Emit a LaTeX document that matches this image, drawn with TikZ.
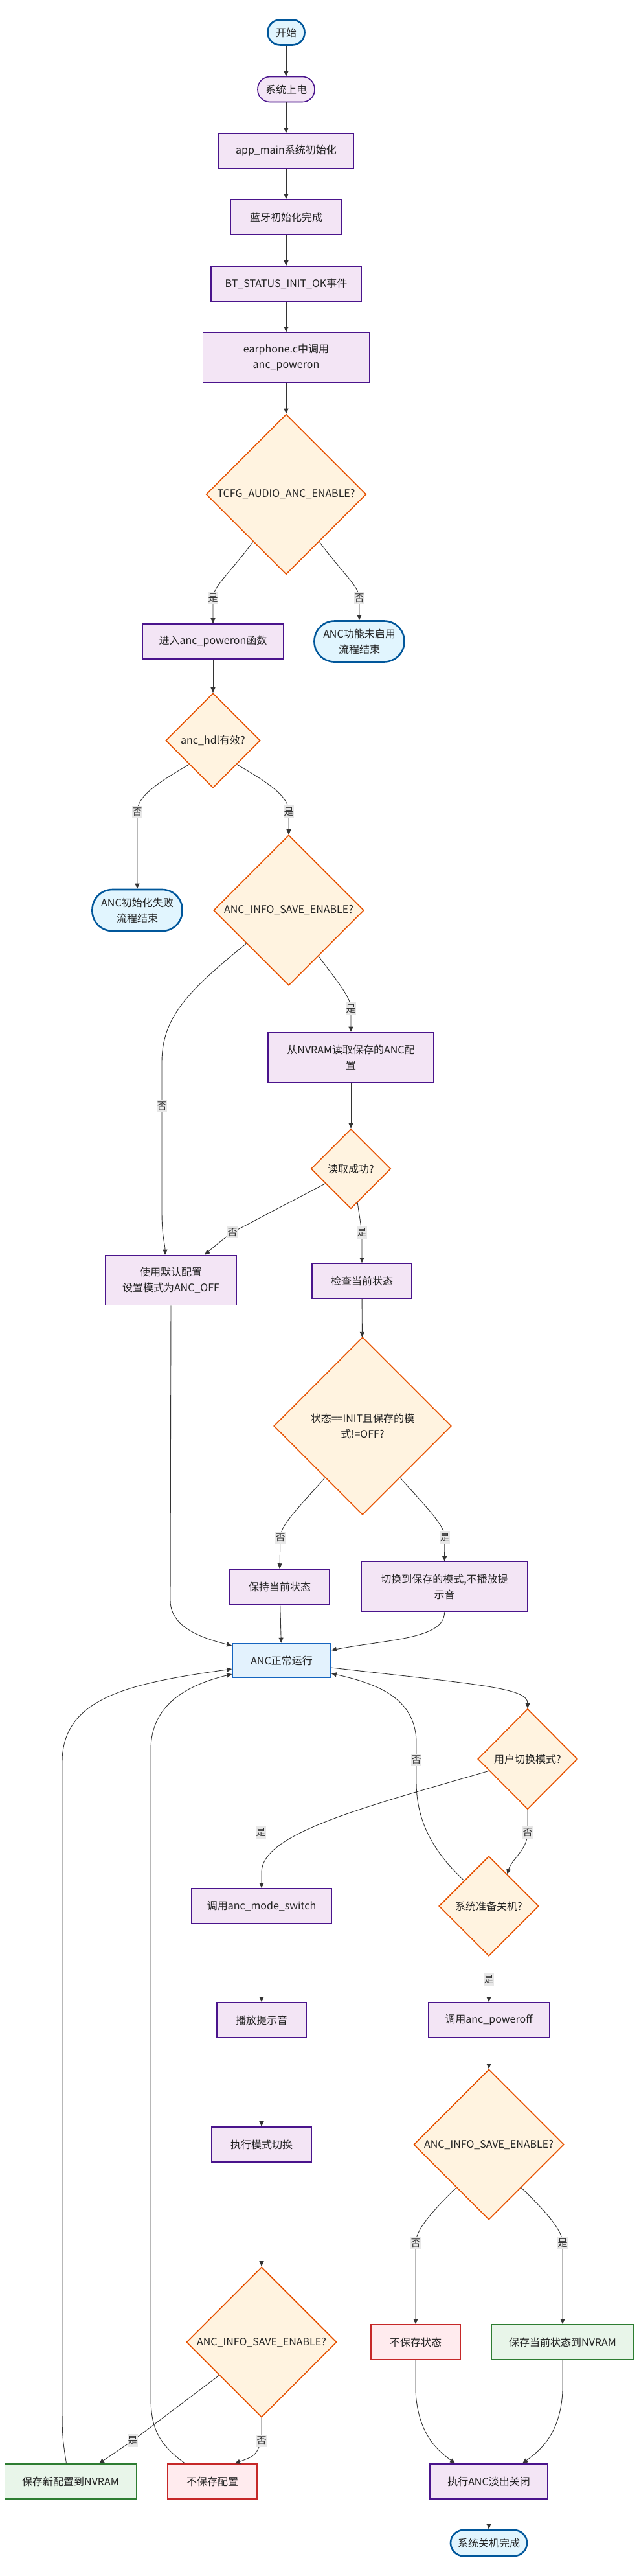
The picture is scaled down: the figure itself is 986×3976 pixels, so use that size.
\documentclass[tikz,border=0pt]{standalone}
\usepackage{fontspec}
\setmainfont{Noto Sans CJK SC}
\usetikzlibrary{shapes.geometric,arrows.meta}
\definecolor{startF}{HTML}{E1F5FE}
\definecolor{startD}{HTML}{01579B}
\definecolor{procF}{HTML}{F3E5F5}
\definecolor{procD}{HTML}{4A148C}
\definecolor{decF}{HTML}{FFF3E0}
\definecolor{decD}{HTML}{E65100}
\definecolor{runF}{HTML}{E3F2FD}
\definecolor{runD}{HTML}{1565C0}
\definecolor{grnF}{HTML}{E8F5E9}
\definecolor{grnD}{HTML}{2E7D32}
\definecolor{redF}{HTML}{FFEBEE}
\definecolor{redD}{HTML}{C62828}
\definecolor{edgeC}{HTML}{333333}
\definecolor{lblF}{HTML}{E8E8E8}
\definecolor{txtC}{HTML}{222222}
\tikzset{
  sz/.style 2 args={minimum width=#1pt, minimum height=#2pt},
  base/.style={font=\fontsize{16pt}{24pt}\selectfont, text=txtC, align=center, inner sep=0pt},
  proc/.style={base, rectangle, draw=procD, fill=procF, line width=1.6pt},
  grnbox/.style={base, rectangle, draw=grnD, fill=grnF, line width=1.6pt},
  redbox/.style={base, rectangle, draw=redD, fill=redF, line width=1.6pt},
  runbox/.style={base, rectangle, draw=runD, fill=runF, line width=1.6pt},
  term/.style={base, rectangle, draw=startD, fill=startF, line width=2.6pt},
  pterm/.style={base, rectangle, draw=procD, fill=procF, line width=1.6pt},
  dec/.style={base, diamond, aspect=1, draw=decD, fill=decF, line width=1.6pt},
  lbl/.style={font=\fontsize{15pt}{18pt}\selectfont, text=edgeC, fill=lblF, inner xsep=0.5pt, inner ysep=3pt},
  flow/.style={draw=edgeC, line width=0.9pt, -{Triangle[length=8pt,width=7pt]}},
}
\begin{document}
\begin{tikzpicture}[x=1pt,y=-1pt]
\useasboundingbox (0,0) rectangle (986,3976);
% nodes
\node[term, sz={57}{39}, rounded corners=19pt] (start) at (442,50) {开始};
\node[pterm, sz={88}{39}, rounded corners=19pt] (power) at (442,138) {系统上电};
\node[proc, sz={208}{54}] (appmain) at (442,233) {app\_main系统初始化};
\node[proc, sz={171}{54}] (bt) at (442,335) {蓝牙初始化完成};
\node[proc, sz={232}{54}] (btevt) at (442,438) {BT\_STATUS\_INIT\_OK事件};
\node[proc, sz={257}{77}] (earph) at (442,552) {earphone.c中调用\\anc\_poweron};
\node[dec, sz={247}{247}] (tcfg) at (442,763) {TCFG\_AUDIO\_ANC\_ENABLE?};
\node[proc, sz={217}{54}] (enter) at (329,990) {进入anc\_poweron函数};
\node[term, sz={139}{63}, rounded corners=31pt] (ancoff) at (555,990) {ANC功能未启用\\流程结束};
\node[dec, sz={146}{146}] (hdl) at (329,1143) {anc\_hdl有效?};
\node[term, sz={139}{64}, rounded corners=31pt] (fail) at (212,1405) {ANC初始化失败\\流程结束};
\node[dec, sz={232}{232}] (save1) at (446,1405) {ANC\_INFO\_SAVE\_ENABLE?};
\node[proc, sz={256}{77}] (nvram) at (542,1632) {从NVRAM读取保存的ANC配\\置};
\node[dec, sz={123}{123}] (readok) at (542,1804) {读取成功?};
\node[proc, sz={203}{77}] (default) at (264,1976) {使用默认配置\\设置模式为ANC\_OFF};
\node[proc, sz={154}{54}] (check) at (559,1977) {检查当前状态};
\node[dec, sz={274}{274}] (state) at (560,2201) {状态==INIT且保存的模\\式!=OFF?};
\node[proc, sz={154}{54}] (keep) at (432,2449) {保持当前状态};
\node[proc, sz={257}{77}] (switchsaved) at (686.5,2449) {切换到保存的模式,不播放提\\示音};
\node[runbox, sz={152}{53}] (run) at (435,2563) {ANC正常运行};
\node[dec, sz={154}{155}] (user) at (815,2715) {用户切换模式?};
\node[dec, sz={154}{154}] (shut) at (755,2942) {系统准备关机?};
\node[proc, sz={216}{54}] (modesw) at (404,2942) {调用anc\_mode\_switch};
\node[proc, sz={138}{54}] (play) at (404,3118) {播放提示音};
\node[proc, sz={187}{54}] (poweroff) at (755,3118) {调用anc\_poweroff};
\node[proc, sz={155}{54}] (exec) at (404,3310) {执行模式切换};
\node[dec, sz={232}{232}] (save3) at (755,3310) {ANC\_INFO\_SAVE\_ENABLE?};
\node[dec, sz={232}{232}] (save2) at (404,3615) {ANC\_INFO\_SAVE\_ENABLE?};
\node[redbox, sz={138}{54}] (nosavestate) at (642,3615) {不保存状态};
\node[grnbox, sz={219}{54}] (savestate) at (869,3615) {保存当前状态到NVRAM};
\node[grnbox, sz={203}{54}] (savenew) at (109,3830) {保存新配置到NVRAM};
\node[redbox, sz={138}{54}] (nosavecfg) at (328,3830) {不保存配置};
\node[proc, sz={182}{54}] (fade) at (755,3830) {执行ANC淡出关闭};
\node[term, sz={118}{40}, rounded corners=20pt] (done) at (755,3925) {系统关机完成};
% straight edges
\draw[flow] (start) -- (power);
\draw[flow] (power) -- (appmain);
\draw[flow] (appmain) -- (bt);
\draw[flow] (bt) -- (btevt);
\draw[flow] (btevt) -- (earph);
\draw[flow] (earph) -- (tcfg);
\draw[flow] (enter) -- (hdl);
\draw[flow] (nvram) -- (readok);
\draw[flow] (check) -- (state);
\draw[flow] (keep) -- (run);
\draw[flow] (modesw) -- (play);
\draw[flow] (play) -- (exec);
\draw[flow] (exec) -- (save2);
\draw[flow] (poweroff) -- (save3);
\draw[flow] (fade) -- (done);
% curved / labelled edges
\draw[flow] (tcfg.235) .. controls (355,885) and (329,905) .. (329,923) node[lbl] {是} -- (enter.north);
\draw[flow] (tcfg.-55) .. controls (529,885) and (555,905) .. (555,923) node[lbl] {否} -- (ancoff.north);
\draw[flow] (hdl.225) .. controls (240,1210) and (212,1230) .. (212,1253) node[lbl] {否} -- (fail.north);
\draw[flow] (hdl.-45) .. controls (418,1210) and (446,1230) .. (446,1253) node[lbl] {是} -- (save1.north);
\draw[flow] (save1.218) .. controls (290,1530) and (250,1570) .. (250,1640) -- (250,1707) node[lbl] {否} -- (250,1870) .. controls (250,1910) and (255,1920) .. ([xshift=-9pt]default.north);
\draw[flow] (save1.-57) .. controls (525,1520) and (542,1540) .. (542,1557) node[lbl] {是} -- (nvram.north);
\draw[flow] (readok.210) -- (359,1902) node[lbl] {否} .. controls (338,1918) .. ([xshift=52pt]default.north);
\draw[flow] (readok.-79) -- (559,1902) node[lbl] {是} -- (check.north);
\draw[flow] (state.234) .. controls (458,2330) and (433,2355) .. (433,2373) node[lbl] {否} -- (keep.north);
\draw[flow] (state.-54) .. controls (662,2330) and (687,2355) .. (687,2373) node[lbl] {是} -- (switchsaved.north);
\draw[flow] (switchsaved.south) .. controls (687,2530) and (600,2530) .. ([yshift=16pt]run.east);
\draw[flow] (default.south) -- (263,2470) .. controls (263,2515) and (320,2530) .. ([yshift=23pt]run.west);
\draw[flow] ([yshift=-11pt]run.east) .. controls (740,2600) and (815,2605) .. (user.north);
\draw[flow] (user.197) .. controls (560,2790) and (404,2830) .. (404,2890) -- (modesw.north);
\node[lbl] (luy) at (403,2828) {是};
\draw[flow] (user.south) -- (815,2828) node[lbl] {否} .. controls (815,2855) and (790,2870) .. (shut.60);
\draw[flow] (shut.134) .. controls (660,2850) and (643,2800) .. (643,2750) -- (643,2716) node[lbl] {否} -- (643,2690) .. controls (643,2620) and (580,2598) .. ([yshift=-20pt]run.east);
\draw[flow] (shut.south) -- (755,3055) node[lbl] {是} -- (poweroff.north);
\draw[flow] (save2.218) -- (205,3767) node[lbl] {是} -- ([xshift=44pt]savenew.north);
\draw[flow] (save2.south) .. controls (404,3750) and (404,3760) .. (404,3767) node[lbl] {否} .. controls (395,3790) .. ([xshift=35pt]nosavecfg.north);
\draw[flow] ([xshift=-6.5pt]savenew.north) .. controls (96,3760) .. (96,3700) -- (96,2720) .. controls (96,2620) and (200,2598) .. ([yshift=-13pt]run.west);
\draw[flow] ([xshift=-42pt]nosavecfg.north) .. controls (240,3770) and (233,3740) .. (233,3700) -- (233,2700) .. controls (233,2625) and (300,2598) .. ([yshift=-21pt]run.west);
\draw[flow] (save3.233) .. controls (660,3420) and (642,3445) .. (642,3462) node[lbl] {否} -- (nosavestate.north);
\draw[flow] (save3.-53) .. controls (850,3420) and (869,3445) .. (869,3462) node[lbl] {是} -- (savestate.north);
\draw[flow] (nosavestate.south) -- (642,3690) .. controls (645,3760) and (680,3785) .. ([xshift=-52pt]fade.north);
\draw[flow] (savestate.south) -- (869,3690) .. controls (866,3760) and (830,3785) .. ([xshift=52pt]fade.north);
\end{tikzpicture}
\end{document}
